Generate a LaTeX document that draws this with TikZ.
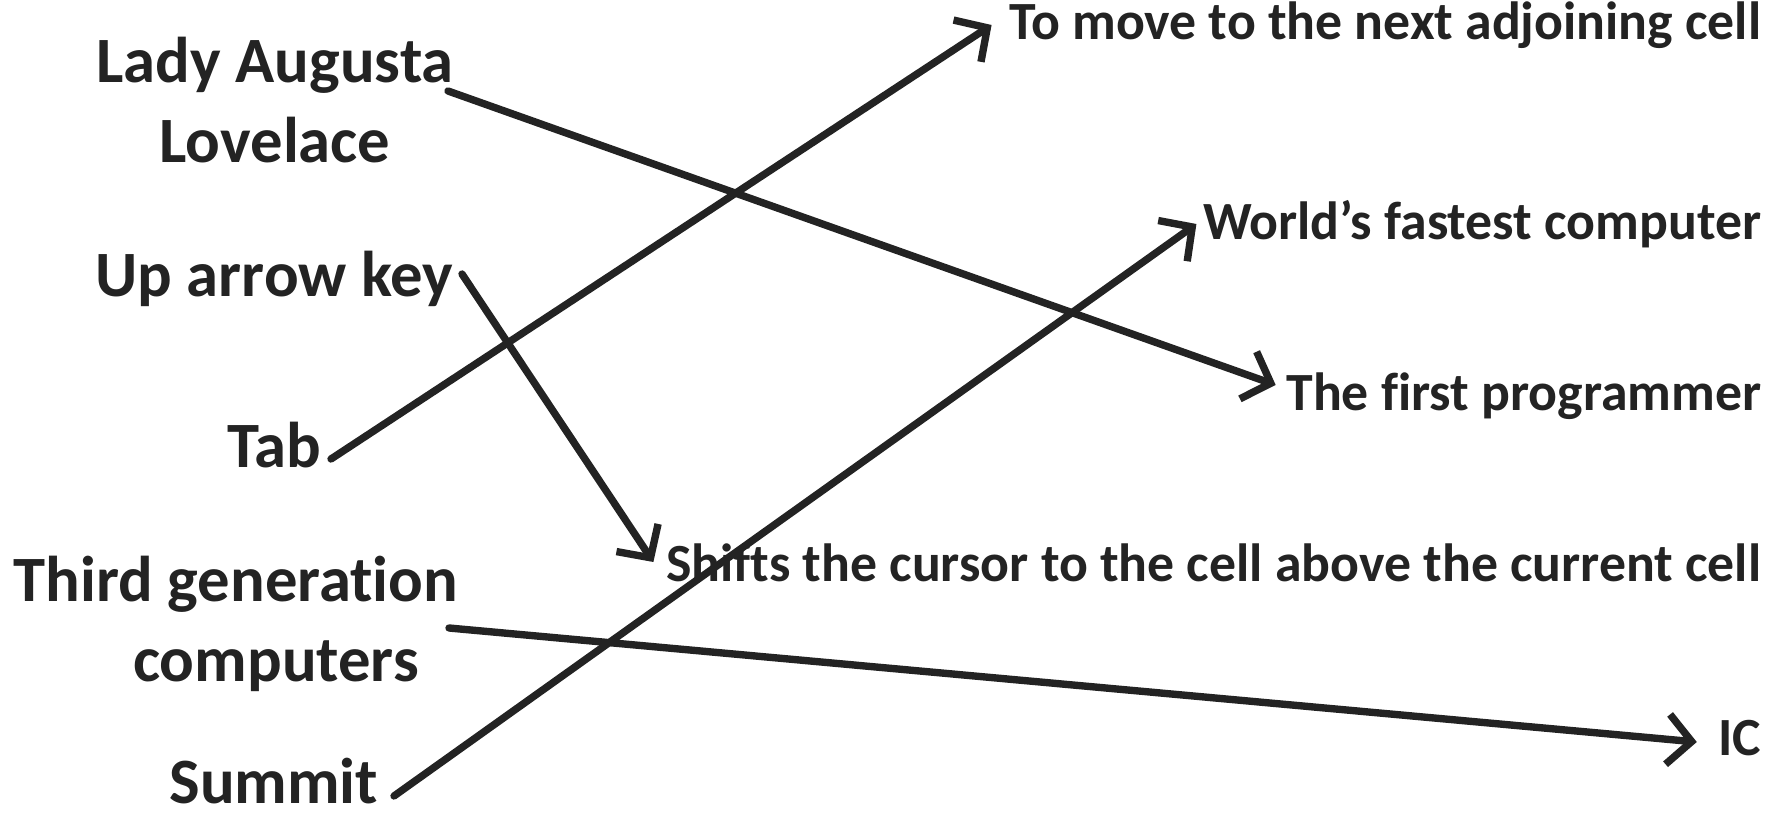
\documentclass[tikz,border=0pt]{standalone}
\usepackage{fontspec}
\setmainfont{Carlito}[Ligatures=NoCommon]
\usetikzlibrary{calc}
\usetikzlibrary{arrows.meta}
\definecolor{ink}{HTML}{232323}

\begin{document}
\begin{tikzpicture}[lhs/.style={font=\bfseries\fontsize{18.4}{22.8}\selectfont,inner sep=0pt,text=ink},
rhs/.style={font=\bfseries\fontsize{15.3}{18}\selectfont,inner sep=0pt,anchor=base east,text=ink},
link/.style={ink,line width=2.1pt,line cap=round,line join=round,-{Straight Barb[length=2.4mm,width=5mm]}}]

\useasboundingbox (0,0) rectangle (17.81,-8.15);

% left column
\node[lhs,align=center,anchor=base] (lady) at (2.75,-1.63) {Lady Augusta\\Lovelace};
\node[lhs,anchor=base east] (up) at (4.54,-2.97) {Up arrow key};
\node[lhs,anchor=base east] (tab) at (3.22,-4.68) {Tab};
\node[lhs,align=center,anchor=base] (third) at (2.36,-6.82) {Third generation\\\hspace*{0.8cm}computers};
\node[lhs,anchor=base east] (summit) at (3.79,-8.04) {Summit};

% right column
\node[rhs] (move) at (17.62,-0.40) {To move to the next adjoining cell};
\node[rhs] (fast) at (17.62,-2.40) {World’s fastest computer};
\node[rhs] (first) at (17.62,-4.11) {The first programmer};
\node[rhs] (shift) at (17.62,-5.82) {Shifts the cursor to the cell above the current cell};
\node[rhs] (ic) at (17.62,-7.56) {IC};

%\draw (lady) -- (first);
\draw[link] ($(lady.base)+(1.73,0.72)$)--($(first.base west)+(-0.10,0.26)$);
\draw[link] ($(up.base east)+(0.08,0.23)$)--($(shift.base west)+(-0.12,0.20)$);
\draw[link] ($(tab.base east)+(0.09,0.09)$)--($(move.base west)+(-0.17,0.15)$);
\draw[link] ($(third.base)+(2.13,0.54)$)--($(ic.base west)+(-0.21,0.14)$);
\draw[link] ($(summit.base east)+(0.15,0.08)$)--($(fast.base west)+(-0.06,0.16)$);

\end{tikzpicture}
\end{document}
